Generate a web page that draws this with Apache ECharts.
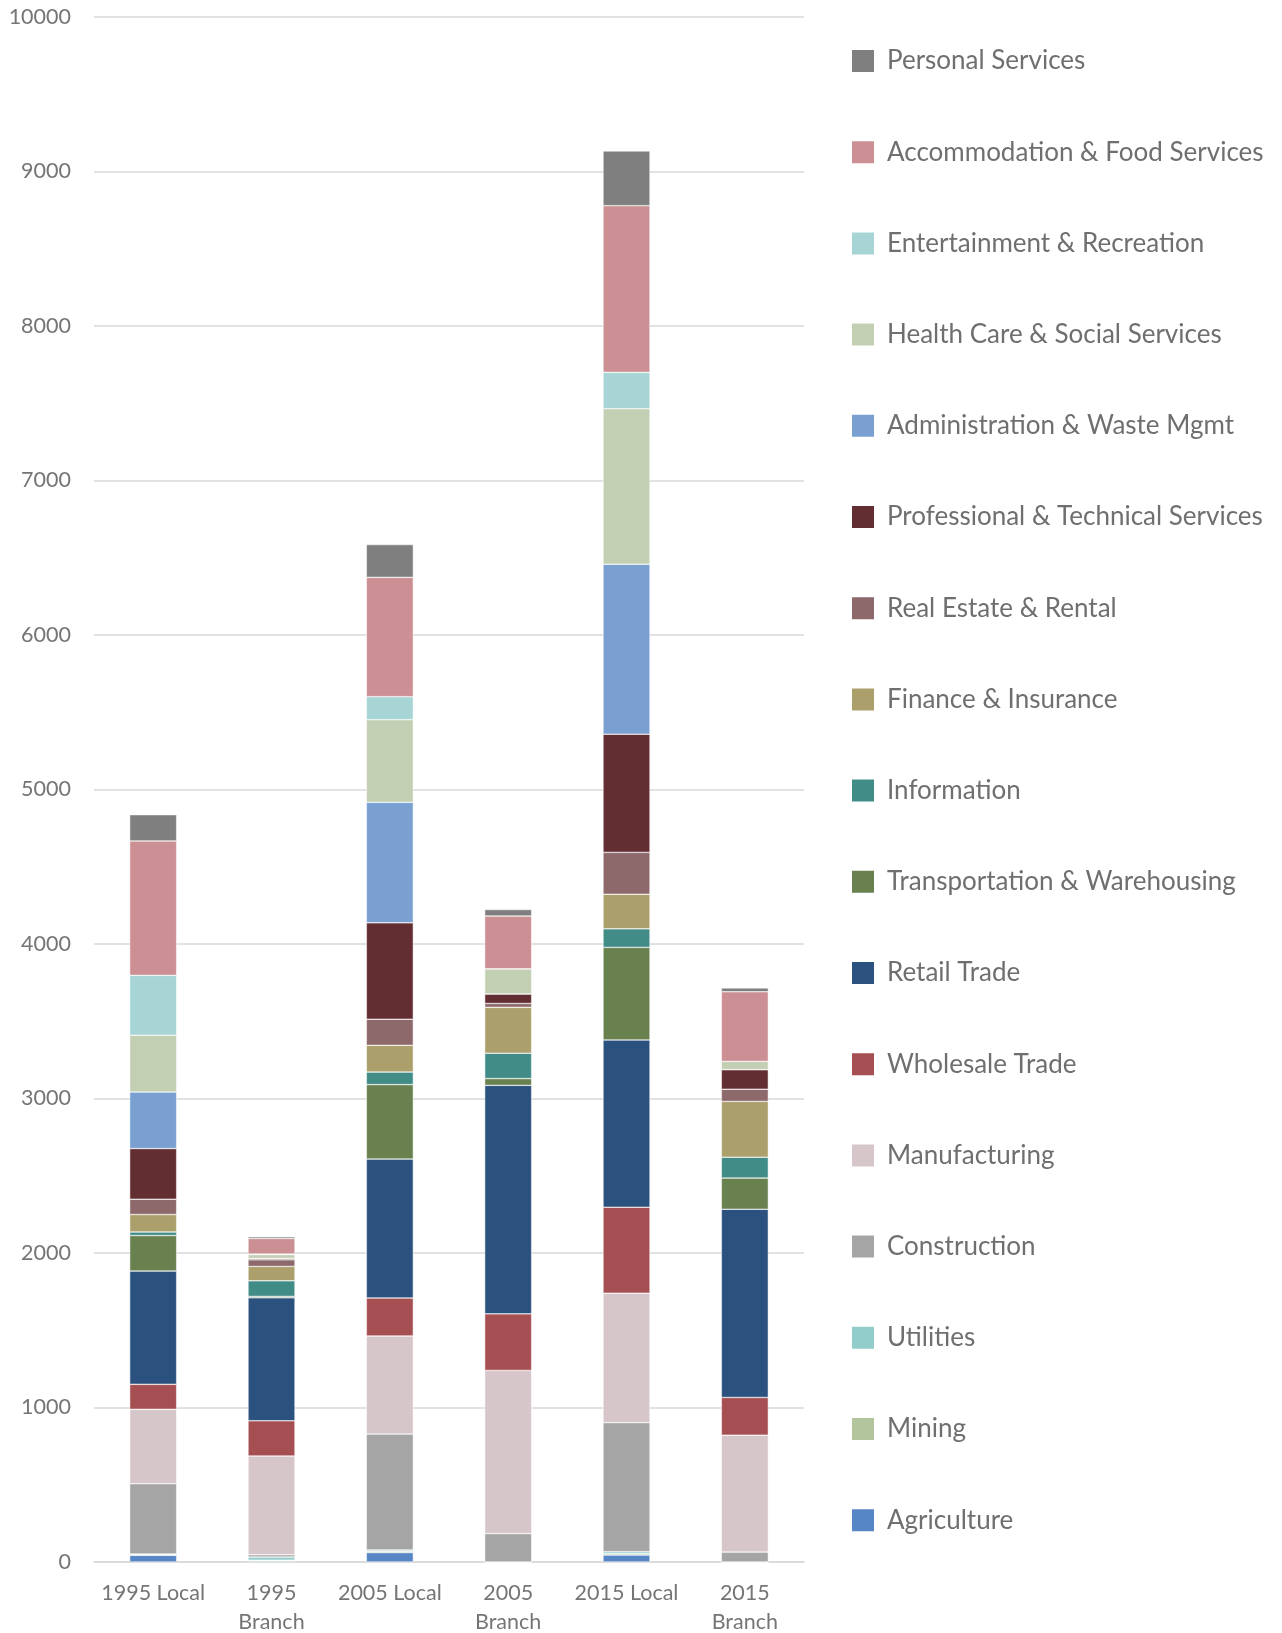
<!DOCTYPE html>
<html>
<head>
<meta charset="utf-8">
<title>Local vs Branch employment by industry</title>
<script src="https://cdn.jsdelivr.net/npm/echarts@6/dist/echarts.min.js"></script>
<style>
    html, body { margin: 0; padding: 0; background: #fff; }
    #main { width: 1282px; height: 1633px; }
</style>
</head>
<body>
<div id="main"></div>
<script>
var categories = ['1995 Local', '1995\nBranch', '2005 Local', '2005\nBranch', '2015 Local', '2015\nBranch'];
var yTicks = [0, 1000, 2000, 3000, 4000, 5000, 6000, 7000, 8000, 9000, 10000];

// stack order, bottom first
var agriculture   = [43, 6, 61, 0, 45, 0];
var mining        = [5, 6, 9, 0, 10, 0];
var utilities     = [4, 20, 8, 0, 12, 0];
var construction  = [455, 15, 750, 184, 835, 64];
var manufacturing = [481, 639, 635, 1056, 838, 757];
var wholesale     = [162, 228, 246, 366, 556, 244];
var retail        = [733, 796, 899, 1479, 1083, 1218];
var transport     = [230, 9, 482, 44, 599, 202];
var information   = [23, 101, 81, 164, 120, 135];
var finance       = [113, 93, 173, 297, 224, 361];
var realEstate    = [99, 43, 169, 25, 271, 79];
var professional  = [328, 9, 624, 62, 765, 127];
var admin         = [366, 0, 780, 0, 1100, 0];
var health        = [367, 25, 535, 162, 1007, 53];
var entertainment = [388, 3, 149, 0, 235, 0];
var accommodation = [870, 101, 772, 342, 1079, 451];
var personal      = [170, 11, 212, 42, 354, 25];

var seriesDefs = [
    ['Agriculture', agriculture, '#5686c6'],
    ['Mining', mining, '#b3c59c'],
    ['Utilities', utilities, '#92cccb'],
    ['Construction', construction, '#a5a5a5'],
    ['Manufacturing', manufacturing, '#d7c6c9'],
    ['Wholesale Trade', wholesale, '#a64f53'],
    ['Retail Trade', retail, '#2b527e'],
    ['Transportation & Warehousing', transport, '#69804f'],
    ['Information', information, '#428c88'],
    ['Finance & Insurance', finance, '#aba06b'],
    ['Real Estate & Rental', realEstate, '#8d696c'],
    ['Professional & Technical Services', professional, '#622e32'],
    ['Administration & Waste Mgmt', admin, '#79a0d1'],
    ['Health Care & Social Services', health, '#c3cfb2'],
    ['Entertainment & Recreation', entertainment, '#a7d5d5'],
    ['Accommodation & Food Services', accommodation, '#cc8f93'],
    ['Personal Services', personal, '#7f7f7f']
];

var chartDom = document.getElementById('main');
var myChart = echarts.init(chartDom);
var option;

var series = seriesDefs.map(function (d) {
    return {
        name: d[0],
        type: 'bar',
        stack: 'total',
        barWidth: 47,
        data: d[1],
        itemStyle: { color: d[2], borderColor: '#ffffff', borderWidth: 0.5 }
    };
});

// legend reads top to bottom from the top of the stack
var legendNames = seriesDefs.map(function (d) { return d[0]; }).reverse();

option = {
    backgroundColor: '#ffffff',
    animation: false,
    textStyle: { fontFamily: 'Lato' },
    grid: { left: 94, right: 478, top: 17, bottom: 71, containLabel: false, outerBoundsMode: 'none' },
    legend: {
        orient: 'vertical',
        left: 845,
        top: 43,
        itemWidth: 24,
        itemHeight: 24,
        itemGap: 65.2,
        icon: 'rect',
        data: legendNames,
        textStyle: { fontFamily: 'Lato', fontSize: 26, color: '#6f6f6f', lineHeight: 24, padding: [0, 0, 0, 7] }
    },
    xAxis: {
        type: 'category',
        data: categories,
        axisLine: { show: true, lineStyle: { color: '#d9d9d9', width: 1.5 } },
        axisTick: { show: false },
        axisLabel: { color: '#757575', fontSize: 21.5, lineHeight: 29, margin: 17, interval: 0 }
    },
    yAxis: {
        type: 'value',
        min: yTicks[0],
        max: yTicks[yTicks.length - 1],
        interval: 1000,
        axisLine: { show: false },
        axisTick: { show: false },
        splitLine: { lineStyle: { color: '#d9d9d9', width: 1.5 } },
        axisLabel: {
            color: '#757575',
            fontSize: 21.5,
            margin: 23,
            formatter: function (v) { return String(v); }
        }
    },
    series: series
};

option && myChart.setOption(option);

window.addEventListener('resize', function () {
    myChart.resize();
});
</script>
</body>
</html>
